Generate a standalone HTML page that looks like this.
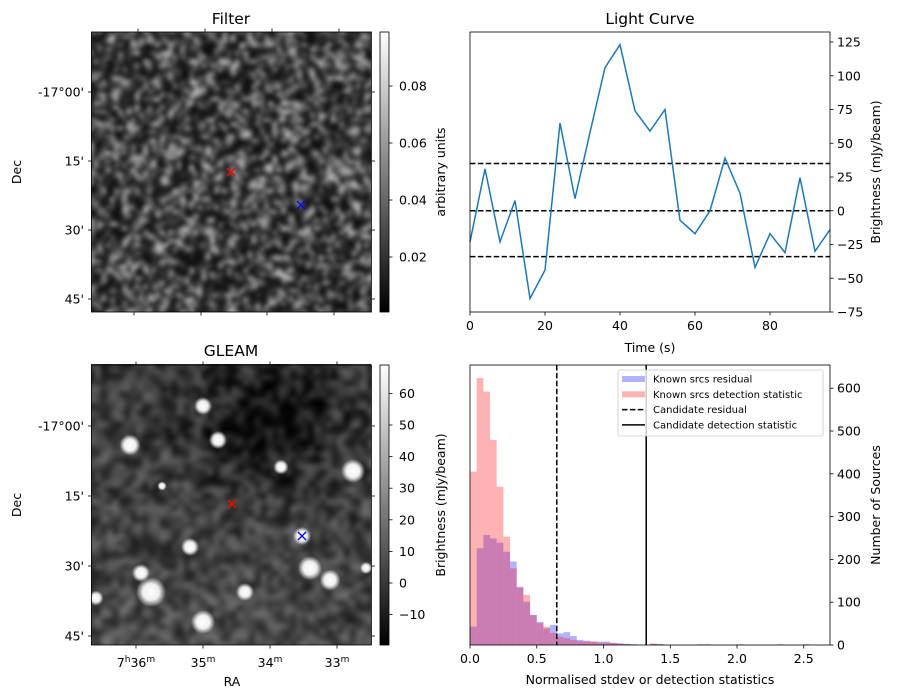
<!DOCTYPE html>
<html><head><meta charset="utf-8"><style>
body{margin:0;background:#fff;width:898px;height:699px;overflow:hidden;position:relative;font-family:"Liberation Sans","DejaVu Sans",sans-serif}
canvas{position:absolute}
svg{position:absolute;left:0;top:0}
svg text{font-family:"DejaVu Sans","Liberation Sans",sans-serif;font-size:12.5px;fill:#000}
</style></head><body>
<canvas id="filterImg" width="280" height="280" style="left:91px;top:32px"></canvas>
<canvas id="gleamImg" width="280" height="281" style="left:91px;top:364px"></canvas>
<svg id="svg" width="898" height="699">
<defs><linearGradient id="gray" x1="0" y1="1" x2="0" y2="0"><stop offset="0" stop-color="#000"/><stop offset="1" stop-color="#fff"/></linearGradient></defs>
<g id="static"></g>
</svg>
<script>
// ---- chart data ----
const lcTimes=[0,4,8,12,16,20,24,28,32,36,40,44,48,52,56,60,64,68,72,76,80,84,88,92,96];
const lcValues=[-23,31,-23,7.5,-65,-44,65,9,58,106,123,74,59,75,-7,-17,0,39,13,-42,-17,-31,24.5,-30,-14];
const lcThresholds=[35,0,-34];
const lcXTicks=[0,20,40,60,80];
const lcYTicks=[-75,-50,-25,0,25,50,75,100,125];
const histBinWidth=0.05;
const redCounts=[405,624,592,479,370,253,179,134,117,70,51,43,28,19,16,12,9,8,8,5,5,5,3,2,0,0,0,3,2,0,0,0,0,0,2,2,0,0,0,0,2,0,0,0,0,0,2,0,0,0,2,0,0];
const blueCounts=[43,226,257,249,239,218,195,136,101,70,54,39,47,27,30,21,12,10,8,8,8,5,4,3,2,0,0,3,2,0,0,0,0,0,0,0,0,0,0,0,0,0,0,0,0,0,0,0,0,0,0,0,0];
const candResidual=0.65;
const candDetection=1.32;
const histXTicks=[0,0.5,1.0,1.5,2.0,2.5];
const histYTicks=[0,100,200,300,400,500,600];
const filterCbTicks=[0.02,0.04,0.06,0.08];
const gleamCbTicks=[-10,0,10,20,30,40,50,60];

const NS='http://www.w3.org/2000/svg';
const root=document.getElementById('static');
function mk(tag,attrs,parent,txt){const e=document.createElementNS(NS,tag);for(const k in attrs)e.setAttribute(k,attrs[k]);if(txt!==undefined)e.textContent=txt;(parent||root).appendChild(e);return e;}

// ---- light curve ----
const lcX=t=>470+t*(360/96);
const lcY=v=>210.75-v*1.35;
const lc=mk('g',{});


lcThresholds.forEach(v=>{const l=mk('line',{x1:470,x2:830,y1:lcY(v),y2:lcY(v),stroke:'#000','stroke-width':1.5,'stroke-dasharray':'5.5,2.4'},lc);

});
const pl=mk('polyline',{points:lcTimes.map((t,i)=>lcX(t)+','+lcY(lcValues[i])).join(' '),fill:'none',stroke:'#1f77b4','stroke-width':1.5},lc);


mk('rect',{x:470,y:32,width:360,height:280,fill:'none',stroke:'#000','stroke-width':0.8},lc);
lcXTicks.forEach(t=>{mk('line',{x1:lcX(t),x2:lcX(t),y1:312,y2:315.5,stroke:'#000','stroke-width':0.8},lc);
const tx=mk('text',{x:lcX(t),y:330,'text-anchor':'middle'},lc,t);

});
lcYTicks.forEach(v=>{mk('line',{x1:830,x2:833.5,y1:lcY(v),y2:lcY(v),stroke:'#000','stroke-width':0.8},lc);
const tx=mk('text',{x:837,y:lcY(v)+4.5},lc,v<0?'\u2212'+(-v):v);

});

// ---- histogram ----
const hX=v=>470+v*133.5;
const hY=c=>645-c*0.428;
const hg=mk('g',{});


blueCounts.forEach((c,i)=>{if(!c)return;const r=mk('rect',{x:hX(i*histBinWidth),y:hY(c),width:hX((i+1)*histBinWidth)-hX(i*histBinWidth),height:645-hY(c),fill:'#0000ff','fill-opacity':0.3},hg);

});
redCounts.forEach((c,i)=>{if(!c)return;const r=mk('rect',{x:hX(i*histBinWidth),y:hY(c),width:hX((i+1)*histBinWidth)-hX(i*histBinWidth),height:645-hY(c),fill:'#ff0000','fill-opacity':0.3},hg);

});
const cr=mk('line',{x1:hX(candResidual),x2:hX(candResidual),y1:365,y2:645,stroke:'#000','stroke-width':1.5,'stroke-dasharray':'5.5,2.4'},hg);


const cd=mk('line',{x1:hX(candDetection),x2:hX(candDetection),y1:365,y2:645,stroke:'#000','stroke-width':1.5},hg);


mk('rect',{x:470,y:365,width:360,height:280,fill:'none',stroke:'#000','stroke-width':0.8},hg);
histXTicks.forEach(t=>{mk('line',{x1:hX(t),x2:hX(t),y1:645,y2:648.5,stroke:'#000','stroke-width':0.8},hg);
const tx=mk('text',{x:hX(t),y:663,'text-anchor':'middle'},hg,t.toFixed(1));

});
histYTicks.forEach(v=>{mk('line',{x1:830,x2:833.5,y1:hY(v),y2:hY(v),stroke:'#000','stroke-width':0.8},hg);
const tx=mk('text',{x:837,y:hY(v)+4.5},hg,v);

});

// ---- colorbars ----
function colorbar(top,bottom,ticks,toY,fmt,name){
 const g=mk('g',{});
 
 
 mk('rect',{x:380,y:top,width:9,height:bottom-top,fill:'url(#gray)',stroke:'#000','stroke-width':0.8},g);
 ticks.forEach(v=>{const y=toY(v);mk('line',{x1:389,x2:392.5,y1:y,y2:y,stroke:'#000','stroke-width':0.8},g);
 const tx=mk('text',{x:399,y:y+4.5},g,fmt(v));
 
 });
}
colorbar(32,312,filterCbTicks,v=>257-(v-0.02)*2850,v=>v.toFixed(2),'filter-colorbar');
colorbar(365,645,gleamCbTicks,v=>583-v*3.16,v=>v<0?'\u2212'+(-v):String(v),'gleam-colorbar');

// ---- image axes ----
function imgAxes(top,decYs,raTopXs,raBotXs){
 mk('rect',{x:91.5,y:top,width:280,height:280,fill:'none',stroke:'#000','stroke-width':0.8});
 const decL=["-17°00'","15'","30'","45'"];
 decYs.forEach((y,i)=>{mk('line',{x1:88,x2:91.5,y1:y,y2:y,stroke:'#000','stroke-width':0.8});
 mk('line',{x1:371.5,x2:375,y1:y,y2:y,stroke:'#000','stroke-width':0.8});
 const tx=mk('text',{x:84,y:y+4.5,'text-anchor':'end'},root,decL[i]);
 
 });
 raTopXs.forEach(x=>mk('line',{x1:x,x2:x,y1:top-3.5,y2:top,stroke:'#000','stroke-width':0.8}));
 raBotXs.forEach(x=>mk('line',{x1:x,x2:x,y1:top+280,y2:top+283.5,stroke:'#000','stroke-width':0.8}));
}
imgAxes(32,[92,161,230,299],[138,205,272,339],[134,201,267,334]);
imgAxes(365,[426,496,566,636],[136,203,270,337],[136,203,270,337]);
[[136,'7','36'],[203,'','35'],[270,'','34'],[337,'','33']].forEach(a=>{
 const t=mk('text',{x:a[0],y:667,'text-anchor':'middle'});
 
 
 if(a[1]){mk('tspan',{},t,a[1]);mk('tspan',{'font-size':'9px',dy:-5},t,'h');mk('tspan',{dy:5},t,a[2]);}
 else mk('tspan',{},t,a[2]);
 mk('tspan',{'font-size':'9px',dy:-5},t,'m');
});

// markers
function cross(x,y,c,name){const g=mk('g',{stroke:c,'stroke-width':1.3});
mk('line',{x1:x-4,y1:y-4,x2:x+4,y2:y+4},g);mk('line',{x1:x-4,y1:y+4,x2:x+4,y2:y-4},g);}
cross(231,172,'#f00','filter-candidate-marker');cross(301,205,'#00f','filter-reference-marker');
cross(232,504,'#f00','gleam-candidate-marker');cross(302,536,'#00f','gleam-reference-marker');

// titles & labels
function label(x,y,txt,name,extra){const t=mk('text',Object.assign({x:x,y:y,'text-anchor':'middle'},extra||{}),root,txt);return t;}
label(231,24,'Filter','filter-title',{style:'font-size:15.5px'});
label(231,356,'GLEAM','gleam-title',{style:'font-size:15.5px'});
label(650,24,'Light Curve','light-curve-title',{style:'font-size:15.5px'});
label(650,352,'Time (s)','lc-x-axis-title');
label(650,684,'Normalised stdev or detection statistics','hist-x-axis-title');
label(232,686,'RA','ra-axis-title');
label(21,172,'Dec','dec-axis-title-top',{transform:'rotate(-90 21 172)'});
label(21,505,'Dec','dec-axis-title-bottom',{transform:'rotate(-90 21 505)'});
label(445,172,'arbitrary units','filter-colorbar-title',{transform:'rotate(-90 445 172)'});
label(445,505,'Brightness (mJy/beam)','gleam-colorbar-title',{transform:'rotate(-90 445 505)'});
label(880,172,'Brightness (mJy/beam)','lc-y-axis-title',{transform:'rotate(-90 880 172)'});
label(880,505,'Number of Sources','hist-y-axis-title',{transform:'rotate(-90 880 505)'});

// legend
const lg=mk('g',{});


mk('rect',{x:618,y:370,width:205,height:66,rx:2,fill:'#fff','fill-opacity':0.8,stroke:'#ccc','stroke-width':0.8},lg);
[['Known srcs residual','b'],['Known srcs detection statistic','r'],['Candidate residual','d'],['Candidate detection statistic','s']].forEach((e,i)=>{
 const y=379+i*15.3;
 if(e[1]==='b')mk('rect',{x:622,y:y-3,width:23,height:6,fill:'#0000ff','fill-opacity':0.3},lg);
 if(e[1]==='r')mk('rect',{x:622,y:y-3,width:23,height:6,fill:'#ff0000','fill-opacity':0.3},lg);
 if(e[1]==='d')mk('line',{x1:622,x2:645,y1:y,y2:y,stroke:'#000','stroke-width':1.5,'stroke-dasharray':'5.5,2.4'},lg);
 if(e[1]==='s')mk('line',{x1:622,x2:645,y1:y,y2:y,stroke:'#000','stroke-width':1.5},lg);
 const t=mk('text',{x:653,y:y+3.5,style:'font-size:10px'},lg,e[0]);
 
 
});

// ---- image textures (seeded) ----
let seed=12345;function rnd(){seed=(seed*1103515245+12345)&0x7fffffff;return seed/0x7fffffff;}
function noiseCanvas(n,fn){const c=document.createElement('canvas');c.width=n;c.height=n;const x=c.getContext('2d');const d=x.createImageData(n,n);
for(let j=0;j<n;j++)for(let i=0;i<n;i++){const v=fn(i/n,j/n);const k=(j*n+i)*4;d.data[k]=d.data[k+1]=d.data[k+2]=v;d.data[k+3]=255;}x.putImageData(d,0,0);return c;}
(function(){const ctx=document.getElementById('filterImg').getContext('2d');ctx.imageSmoothingEnabled=true;
 ctx.fillStyle='#222';ctx.fillRect(0,0,280,280);
 const c=noiseCanvas(70,()=>{const r=rnd();return Math.max(0,Math.min(255,12+Math.pow(r,2.6)*210));});
 ctx.filter='blur(2px)';ctx.drawImage(c,-6,-6,292,292);ctx.filter='none';})();
(function(){const ctx=document.getElementById('gleamImg').getContext('2d');ctx.imageSmoothingEnabled=true;
 ctx.fillStyle='#333';ctx.fillRect(0,0,280,281);
 const c=noiseCanvas(50,(u,v)=>{const dark=Math.exp(-(((u-0.62)/0.22)**2+((v-0.22)/0.2)**2));const r=rnd();return Math.max(0,Math.min(200,58-dark*50+(r-0.5)*100+v*18));});
 ctx.filter='blur(2.5px)';ctx.drawImage(c,-8,-8,296,297);ctx.filter='none';
 const srcs=[[203,406,6],[218,440,6],[130,445,7],[281,467,5],[353,471,8],[162,486,3],[190,547,6],[141,573,6],[151,592,10],[310,568,8],[330,580,7],[245,592,6],[203,622,8],[96,598,5],[366,568,4],[302,536,6]];
 srcs.forEach(s=>{const x=s[0]-91,y=s[1]-364;const g=ctx.createRadialGradient(x,y,0,x,y,s[2]*1.5);g.addColorStop(0,'rgba(255,255,255,1)');g.addColorStop(0.55,'rgba(250,250,250,0.95)');g.addColorStop(1,'rgba(255,255,255,0)');ctx.fillStyle=g;ctx.beginPath();ctx.arc(x,y,s[2]*1.5,0,7);ctx.fill();});})();
</script>
</body></html>
